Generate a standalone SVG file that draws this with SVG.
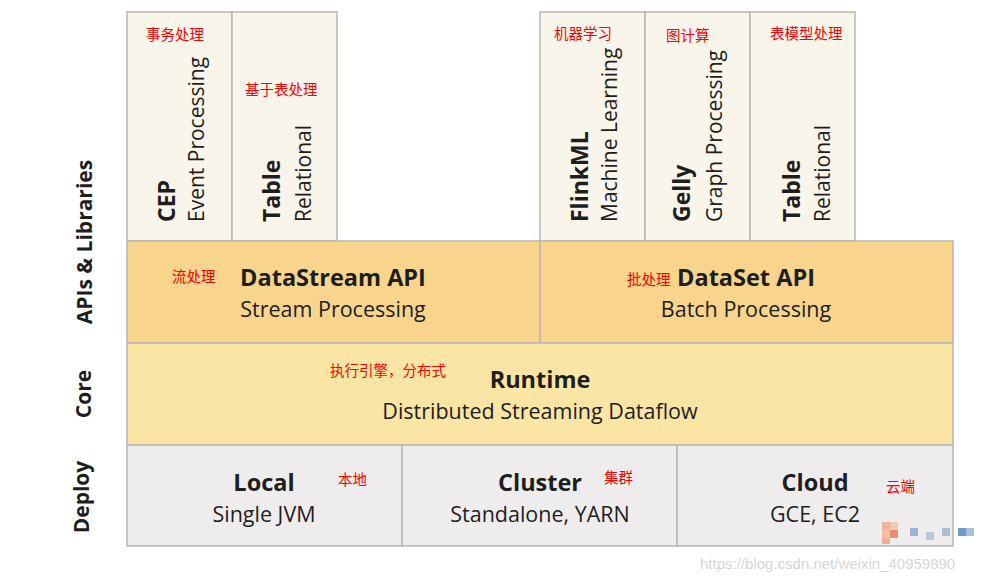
<svg xmlns="http://www.w3.org/2000/svg" width="981" height="582" viewBox="0 0 981 582">
<style>
.box{stroke:#b9b6b0;stroke-width:1.5}
.lib{fill:#f9f5ea}
.api{fill:#f9d48c}
.core{fill:#fbe5a4}
.dep{fill:#eeecec}
.t{font-family:"Open Sans",Lato,sans-serif;fill:#1e1e1e}
.b{font-weight:bold;font-size:23.5px}
.r{font-size:21.5px}
.vb{font-weight:bold;font-size:23px}
.vr{font-size:21px}
.side{font-family:"Open Sans",Lato,sans-serif;font-weight:bold;font-size:21px;fill:#1e1e1e}
.cn{font-family:"Noto Sans CJK SC",sans-serif;font-size:14.5px;fill:#ff0000}
.wm{font-family:"Liberation Sans",Arial,sans-serif;font-size:15px;fill:#d6d6d6}
</style>
<rect width="981" height="582" fill="#ffffff"/>

<g id="side-labels">
<text class="side" transform="translate(92,242) rotate(-90)" text-anchor="middle">APIs &amp; Libraries</text>
<text class="side" transform="translate(91,394) rotate(-90)" text-anchor="middle">Core</text>
<text class="side" transform="translate(89,497) rotate(-90)" text-anchor="middle">Deploy</text>
</g>

<g id="cep">
<rect class="box lib" x="127" y="12" width="105" height="229"/>
<text class="t vb" transform="translate(175,222) rotate(-90)">CEP</text>
<text class="t vr" transform="translate(204,222) rotate(-90)">Event Processing</text>
<text class="cn" x="146" y="40">事务处理</text>
</g>
<g id="table1">
<rect class="box lib" x="232" y="12" width="105" height="229"/>
<text class="t vb" transform="translate(280,222) rotate(-90)">Table</text>
<text class="t vr" transform="translate(311,222) rotate(-90)">Relational</text>
<text class="cn" x="245" y="95">基于表处理</text>
</g>
<g id="flinkml">
<rect class="box lib" x="540" y="12" width="105" height="229"/>
<text class="t vb" transform="translate(588,222) rotate(-90)">FlinkML</text>
<text class="t vr" transform="translate(617,222) rotate(-90)">Machine Learning</text>
<text class="cn" x="554" y="39">机器学习</text>
</g>
<g id="gelly">
<rect class="box lib" x="645" y="12" width="105" height="229"/>
<text class="t vb" transform="translate(690,222) rotate(-90)">Gelly</text>
<text class="t vr" transform="translate(722,222) rotate(-90)">Graph Processing</text>
<text class="cn" x="666" y="41">图计算</text>
</g>
<g id="table2">
<rect class="box lib" x="750" y="12" width="105" height="229"/>
<text class="t vb" transform="translate(800,222) rotate(-90)">Table</text>
<text class="t vr" transform="translate(830,222) rotate(-90)">Relational</text>
<text class="cn" x="770" y="39">表模型处理</text>
</g>

<g id="datastream">
<rect class="box api" x="127" y="241" width="413" height="102"/>
<text class="t b" x="333" y="286" text-anchor="middle">DataStream API</text>
<text class="t r" x="333" y="317" text-anchor="middle">Stream Processing</text>
<text class="cn" x="172" y="282">流处理</text>
</g>
<g id="dataset">
<rect class="box api" x="540" y="241" width="413" height="102"/>
<text class="t b" x="746" y="286" text-anchor="middle">DataSet API</text>
<text class="t r" x="746" y="317" text-anchor="middle">Batch Processing</text>
<text class="cn" x="627" y="285">批处理</text>
</g>

<g id="runtime">
<rect class="box core" x="127" y="343" width="826" height="102"/>
<text class="t b" x="540" y="388" text-anchor="middle">Runtime</text>
<text class="t r" x="540" y="419" text-anchor="middle">Distributed Streaming Dataflow</text>
<text class="cn" x="330" y="376">执行引擎，分布式</text>
</g>

<g id="local">
<rect class="box dep" x="127" y="445" width="275" height="101"/>
<text class="t b" x="264" y="491" text-anchor="middle">Local</text>
<text class="t r" x="264" y="522" text-anchor="middle">Single JVM</text>
<text class="cn" x="338" y="485">本地</text>
</g>
<g id="cluster">
<rect class="box dep" x="402" y="445" width="275" height="101"/>
<text class="t b" x="540" y="491" text-anchor="middle">Cluster</text>
<text class="t r" x="540" y="522" text-anchor="middle">Standalone, YARN</text>
<text class="cn" x="604" y="483">集群</text>
</g>
<g id="cloud">
<rect class="box dep" x="677" y="445" width="276" height="101"/>
<text class="t b" x="815" y="491" text-anchor="middle">Cloud</text>
<text class="t r" x="815" y="522" text-anchor="middle">GCE, EC2</text>
<text class="cn" x="886" y="492">云端</text>
</g>

<g id="connectors"></g>

<g id="watermark-mosaic" opacity="0.8">
<rect x="882" y="522" width="8" height="8" fill="#eda882"/>
<rect x="890" y="522" width="8" height="8" fill="#f3c2a4"/>
<rect x="882" y="530" width="8" height="8" fill="#f4b48e"/>
<rect x="890" y="530" width="8" height="8" fill="#e8764a"/>
<rect x="882" y="538" width="8" height="6" fill="#f0a27c"/>
<rect x="910" y="528" width="8" height="8" fill="#8aa6c8"/>
<rect x="926" y="532" width="8" height="8" fill="#b0c0d4"/>
<rect x="942" y="528" width="8" height="8" fill="#9fb4cc"/>
<rect x="958" y="528" width="8" height="8" fill="#4b82c4"/>
<rect x="966" y="528" width="8" height="8" fill="#8fb2d8"/>
</g>
<text class="wm" x="700" y="569">https://blog.csdn.net/weixin_40959890</text>
</svg>
